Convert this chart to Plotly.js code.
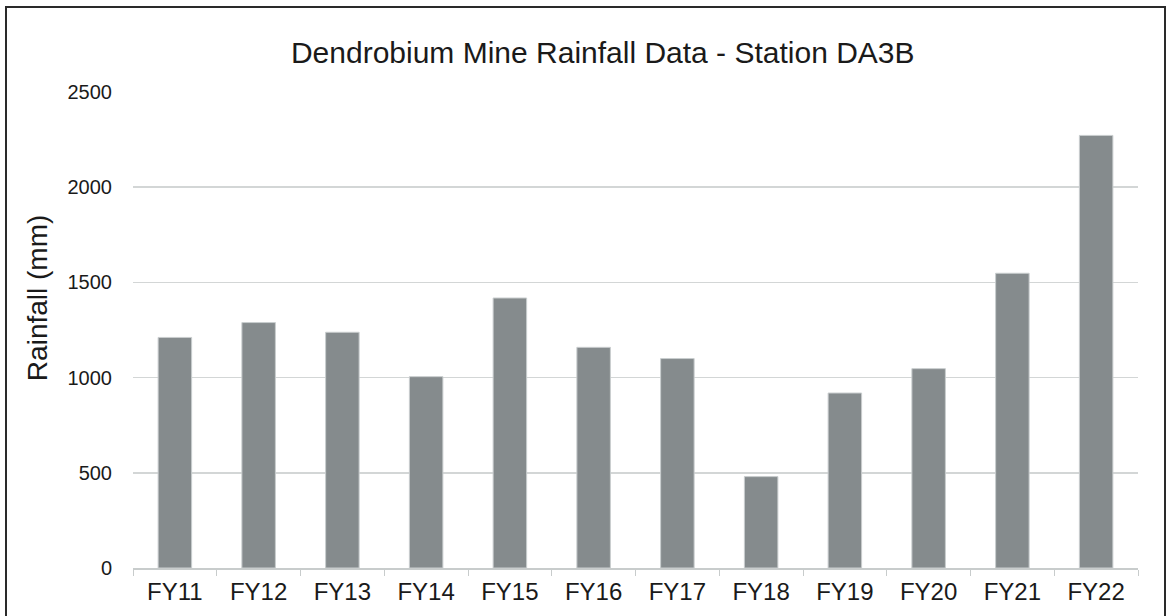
<!DOCTYPE html>
<html>
<head>
<meta charset="utf-8">
<script src="https://cdn.plot.ly/plotly-3.0.1.min.js"></script>
<style>
  html, body { margin:0; padding:0; background:#fff; }
  #wrap { position:relative; width:1167px; height:616px; overflow:hidden; }
  #chart { position:absolute; left:0; top:0; width:1167px; height:616px; }
  #frame { position:absolute; left:5px; top:6px; width:1157px; height:640px; border:2px solid #2a2a2a; pointer-events:none; }
</style>
</head>
<body>
<div id="wrap">
  <div id="chart"></div>
  <div id="frame"></div>
</div>
<script>
const categories = ["FY11","FY12","FY13","FY14","FY15","FY16","FY17","FY18","FY19","FY20","FY21","FY22"];
const rainfall = [1211, 1289, 1238, 1005, 1418, 1159, 1100, 480, 919, 1047, 1548, 2272];
const yTicks = [0, 500, 1000, 1500, 2000, 2500];
const yTitle = "Rainfall (mm)";

const trace = {
  type: "bar",
  x: categories,
  y: rainfall,
  marker: { color: "#858b8d", line: { color: "#c9cdce", width: 1 } },
  hoverinfo: "x+y"
};

const layout = {
  width: 1167,
  height: 616,
  paper_bgcolor: "rgba(0,0,0,0)",
  plot_bgcolor: "rgba(0,0,0,0)",
  margin: { l: 133, r: 29, t: 92, b: 48, pad: 0 },
  bargap: 0.6,
  showlegend: false,
  font: { family: "Liberation Sans, Arial, sans-serif", color: "#1a1a1a" },
  title: {
    text: "Dendrobium Mine Rainfall Data - Station DA3B",
    font: { size: 30, color: "#1a1a1a" },
    x: 0.5165, xanchor: "center",
    y: 0.915, yanchor: "middle"
  },
  xaxis: {
    type: "category",
    tickson: "boundaries",
    ticks: "outside",
    ticklen: 6,
    tickcolor: "#c8cccc",
    showline: true,
    linecolor: "#c8cccc",
    linewidth: 1.5,
    showgrid: false,
    ticklabelstandoff: 2,
    tickfont: { size: 24, color: "#1a1a1a" }
  },
  yaxis: {
    range: [0, 2500],
    tickvals: yTicks,
    ticktext: yTicks.map(String),
    showgrid: true,
    gridcolor: "#d3d6d6",
    gridwidth: 1.5,
    zeroline: false,
    showline: false,
    ticks: "",
    ticklabelstandoff: 20,
    tickfont: { size: 20, color: "#1a1a1a" }
  },
  annotations: [{
    text: yTitle,
    xref: "paper", yref: "paper",
    x: -0.0955, y: 0.567,
    xanchor: "center", yanchor: "middle",
    textangle: -90,
    showarrow: false,
    font: { size: 28, color: "#1a1a1a" }
  }]
};

Plotly.newPlot("chart", [trace], layout, { displayModeBar: false, staticPlot: true });
</script>
</body>
</html>
